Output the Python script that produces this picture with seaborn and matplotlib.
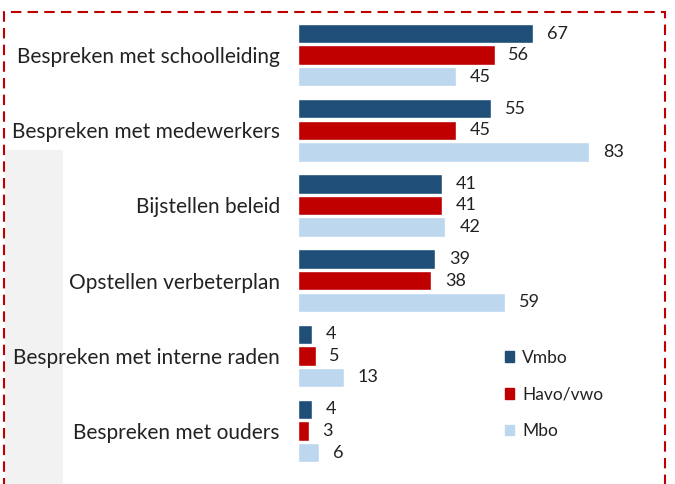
import pandas as pd
import matplotlib.pyplot as plt
import seaborn as sns
from matplotlib.patches import Rectangle, Patch

sns.set_theme(style="white")
plt.rcParams['font.family'] = ['Lato', 'DejaVu Sans']

# gegevens per activiteit (percentages)
activiteiten = ["Bespreken met schoolleiding", "Bespreken met medewerkers", "Bijstellen beleid",
                "Opstellen verbeterplan", "Bespreken met interne raden", "Bespreken met ouders"]
vmbo = [67, 55, 41, 39, 4, 4]
havo_vwo = [56, 45, 41, 38, 5, 3]
mbo = [45, 83, 42, 59, 13, 6]
series = ["Vmbo", "Havo/vwo", "Mbo"]
kleuren = ["#1f4e79", "#c00000", "#bdd7ee"]

df = pd.DataFrame({"activiteit": activiteiten * 3,
                   "type": [s for s in series for _ in activiteiten],
                   "waarde": vmbo + havo_vwo + mbo})

fig = plt.figure(figsize=(6.75, 4.84), dpi=100)

# lichtgrijs vlak links (achtergrond)
fig.patches.append(Rectangle((5 / 675, 0), 58 / 675, 1 - 150 / 484, transform=fig.transFigure,
                             facecolor="#f2f2f2", edgecolor="none", zorder=-1))

ax = fig.add_axes([298 / 675, 0.0318, 351 / 675, 0.932])
ax.patch.set_alpha(0)
sns.barplot(data=df, y="activiteit", x="waarde", hue="type", palette=kleuren, saturation=1,
            orient="h", width=0.86, gap=0.1, ax=ax, legend=False)

for cont in ax.containers:
    ax.bar_label(cont, padding=10, fontsize=13, color="#222222")

ax.set_xlim(0, 100)
ax.set_ylim(5.5, -0.5)
ax.set_xlabel("")
ax.set_ylabel("")
ax.set_xticks([])
ax.tick_params(axis="y", length=0, pad=13, labelsize=15, labelcolor="#222222")
sns.despine(ax=ax, left=True, bottom=True)

handles = [Patch(color=c, label=s) for s, c in zip(series, kleuren)]
fig.legend(handles=handles, loc="upper left", bbox_to_anchor=(489 / 675, 1 - 334 / 484),
           frameon=False, fontsize=12.5, handlelength=0.55, handleheight=0.55,
           handletextpad=0.45, labelspacing=1.2, labelcolor="#222222")

# rode stippellijn rondom
fig.patches.append(Rectangle((4 / 675, -0.05), 661 / 675, 1.05 - 12 / 484, transform=fig.transFigure,
                             fill=False, edgecolor="#c00000", linestyle=(0, (5, 3)), linewidth=1.5))

plt.savefig("out.png", dpi=100)
